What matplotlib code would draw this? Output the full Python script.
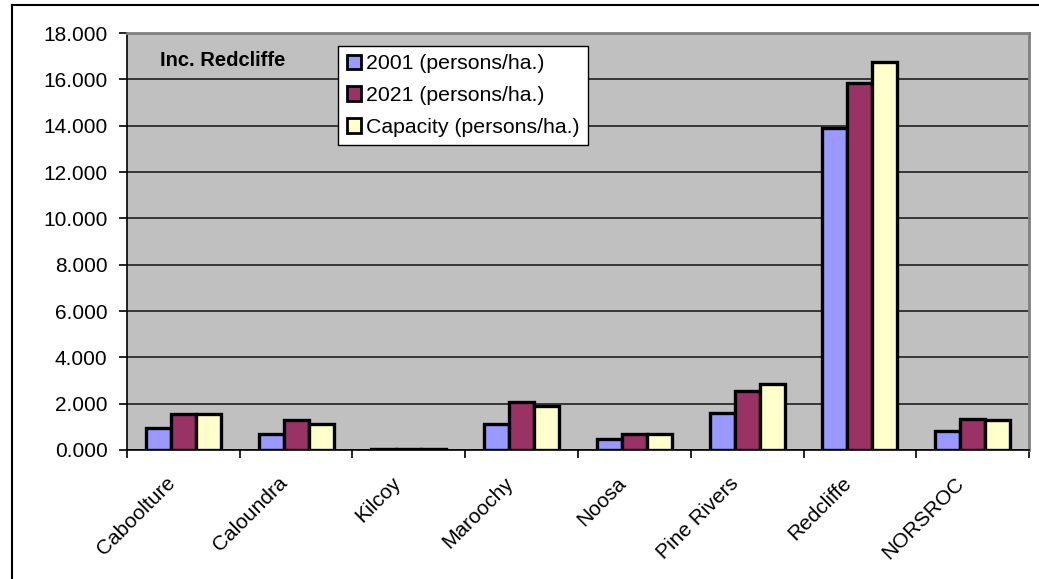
import numpy as np
import matplotlib.pyplot as plt
import matplotlib.transforms as mtransforms
from matplotlib.lines import Line2D

plt.rcParams['font.family'] = ['Liberation Sans', 'DejaVu Sans']

councils = ['Caboolture', 'Caloundra', 'Kilcoy', 'Maroochy', 'Noosa',
            'Pine Rivers', 'Redcliffe', 'NORSROC']
d2001 = [0.95, 0.69, 0.03, 1.12, 0.48, 1.60, 13.90, 0.81]
d2021 = [1.55, 1.30, 0.03, 2.07, 0.67, 2.54, 15.84, 1.33]
capacity = [1.55, 1.12, 0.03, 1.91, 0.71, 2.83, 16.73, 1.28]
labels = ['2001 (persons/ha.)', '2021 (persons/ha.)', 'Capacity (persons/ha.)']
colors = ['#9999FF', '#993366', '#FFFFCC']

fig = plt.figure(figsize=(10.39, 5.79), dpi=100)
ax = fig.add_axes([0.1222, 0.2228, 0.8682, 0.7202])
ax.set_facecolor('#C0C0C0')

x = np.arange(len(councils))
w = 0.222
for i, (vals, c, lab) in enumerate(zip([d2001, d2021, capacity], colors, labels)):
    ax.bar(x + (i - 1) * w, vals, w, color=c, edgecolor='black', linewidth=2.4,
           label=lab, zorder=3)

ax.set_xlim(-0.5, len(councils) - 0.5)
ax.set_ylim(0, 18)
ax.set_yticks(np.arange(0, 18.1, 2))
ax.set_yticklabels([f'{v:.3f}' for v in np.arange(0, 18.1, 2)], fontsize=15)
ax.yaxis.grid(True, color='#202020', linewidth=1.2, zorder=0)
ax.set_axisbelow(True)

ax.set_xticks(np.arange(-0.5, len(councils), 1))
ax.set_xticklabels([])
ax.set_xticks(x, minor=True)
ax.set_xticklabels(councils, minor=True, rotation=45, ha='right',
                   rotation_mode='anchor', fontsize=15)
ax.tick_params(axis='x', which='minor', length=0, pad=17)
ax.tick_params(axis='x', which='major', length=6, width=1.2, direction='out')
ax.tick_params(axis='y', length=6, width=1.2, direction='out', pad=8)
shift = mtransforms.ScaledTranslation(-0.18, 0, fig.dpi_scale_trans)
for t in ax.get_xticklabels(minor=True):
    t.set_transform(t.get_transform() + shift)

for s in ['top', 'right']:
    ax.spines[s].set_color('#808080')
    ax.spines[s].set_linewidth(2)
for s in ['left', 'bottom']:
    ax.spines[s].set_color('black')
    ax.spines[s].set_linewidth(1.2)

ax.text(0.037, 0.935, 'Inc. Redcliffe', transform=ax.transAxes,
        fontsize=14.5, fontweight='bold', va='center')

leg = ax.legend(loc='upper left', bbox_to_anchor=(0.234, 0.969), fontsize=15.3,
                frameon=True, fancybox=False, handlelength=0.7, handleheight=0.7,
                handletextpad=0.2, borderpad=0.4, labelspacing=0.6,
                borderaxespad=0)
leg.get_frame().set_edgecolor('black')
leg.get_frame().set_linewidth(1)
leg.get_frame().set_facecolor('white')
leg.get_frame().set_alpha(1)
for h in leg.legend_handles:
    h.set_linewidth(2)

# outer chart frame
fig.add_artist(Line2D([12 / 1039, 12 / 1039], [0, 1 - 5 / 579],
                      transform=fig.transFigure, color='black', linewidth=1.5))
fig.add_artist(Line2D([12 / 1039, 1], [1 - 5 / 579, 1 - 5 / 579],
                      transform=fig.transFigure, color='black', linewidth=1.5))

fig.savefig('out.png', dpi=100)
